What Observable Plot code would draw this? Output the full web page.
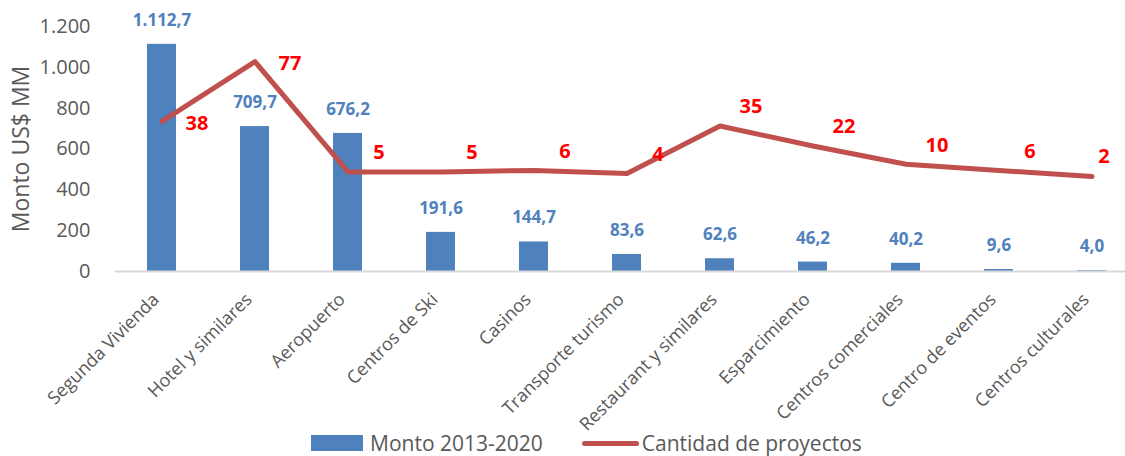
<!DOCTYPE html>
<html>
<head>
<meta charset="utf-8">
<script src="https://cdn.jsdelivr.net/npm/d3@7"></script>
<script src="https://cdn.jsdelivr.net/npm/@observablehq/plot@0.6"></script>
<style>
  html, body { margin: 0; padding: 0; background: #fff; }
  body { width: 1125px; height: 456px; overflow: hidden; font-family: "Open Sans", sans-serif; }
  #chart svg { overflow: visible; display: block; }
  #legend { position: relative; display: flex; justify-content: flex-start; align-items: center; height: 24px; line-height: 24px; font-size: 21px; color: #595959; padding-left: 311px; white-space: nowrap; }
  .sw-bar { width: 52px; height: 16px; background: #4F81BD; margin-right: 7px; }
  .sw-line { width: 57px; height: 5px; background: #C0504D; border-radius: 3px; margin-left: 39px; margin-right: 3px; }
</style>
</head>
<body>
<div id="chart"></div>
<div id="legend">
  <div class="sw-bar"></div><span>Monto 2013-2020</span>
  <div class="sw-line"></div><span>Cantidad de proyectos</span>
</div>
<script>
const categories = [
  "Segunda Vivienda", "Hotel y similares", "Aeropuerto", "Centros de Ski", "Casinos",
  "Transporte turismo", "Restaurant y similares", "Esparcimiento", "Centros comerciales",
  "Centro de eventos", "Centros culturales"
];
const monto = [1112.7, 709.7, 676.2, 191.6, 144.7, 83.6, 62.6, 46.2, 40.2, 9.6, 4.0];
const proyectos = [38, 77, 5, 5, 6, 4, 35, 22, 10, 6, 2];
const yTicks = [0, 200, 400, 600, 800, 1000, 1200];
// secondary (hidden) axis range for "Cantidad de proyectos"
const secDomain = [-60, 100];
const primDomain = [0, 1200];

const locale = d3.formatLocale({decimal: ",", thousands: ".", grouping: [3], currency: ["$", ""]});
const fmt1 = locale.format(",.1f");
const fmt0 = locale.format(",.0f");

const toPrimary = v => primDomain[0] + (v - secDomain[0]) / (secDomain[1] - secDomain[0]) * (primDomain[1] - primDomain[0]);

const data = categories.map((c, i) => ({cat: c, monto: monto[i], n: proyectos[i], i}));
const last = categories.length - 1;

const chart = Plot.plot({
  width: 1125,
  height: 431,
  marginLeft: 115,
  marginRight: 0,
  marginTop: 26,
  marginBottom: 160,
  style: {fontFamily: "Open Sans, sans-serif", color: "#595959", background: "#fff", overflow: "visible"},
  x: {domain: categories, range: [114.5, 1138.5], paddingInner: 0.69, paddingOuter: 0.345},
  y: {domain: primDomain},
  marks: [
    Plot.axisY({ticks: yTicks, tickFormat: fmt0, tickSize: 0, tickPadding: 25, fontSize: 20, label: null}),
    Plot.axisY({ticks: [], label: "Monto US$ MM", labelAnchor: "center", labelArrow: "none",
      labelOffset: 103, fontSize: 23}),
    Plot.axisX({tickRotate: -45, tickSize: 0, tickPadding: 12, fontSize: 18, label: null, dx: -6, dy: 13}),
    Plot.barY(data, {x: "cat", y: "monto", fill: "#4F81BD"}),
    Plot.ruleY([0], {stroke: "#D9D9D9", strokeWidth: 2}),
    Plot.line(data, {x: "cat", y: d => toPrimary(d.n), stroke: "#C0504D", strokeWidth: 5,
      strokeLinejoin: "round", strokeLinecap: "round"}),
    Plot.text(data, {x: "cat", y: "monto", text: d => fmt1(d.monto), dy: -24,
      fill: "#4F81BD", fontWeight: "bold", fontSize: 17}),
    Plot.text(data.filter(d => d.i < 2), {x: "cat", y: d => toPrimary(d.n), text: d => String(d.n),
      dx: 35, dy: 2, fill: "#FF0000", fontWeight: "bold", fontSize: 20}),
    Plot.text(data.filter(d => d.i >= 2 && d.i < last), {x: "cat", y: d => toPrimary(d.n), text: d => String(d.n),
      dx: 31, dy: -19, fill: "#FF0000", fontWeight: "bold", fontSize: 20}),
    Plot.text(data.filter(d => d.i === last), {x: "cat", y: d => toPrimary(d.n), text: d => String(d.n),
      dx: 12, dy: -20, fill: "#FF0000", fontWeight: "bold", fontSize: 20})
  ]
});
document.getElementById("chart").appendChild(chart);
</script>
</body>
</html>
